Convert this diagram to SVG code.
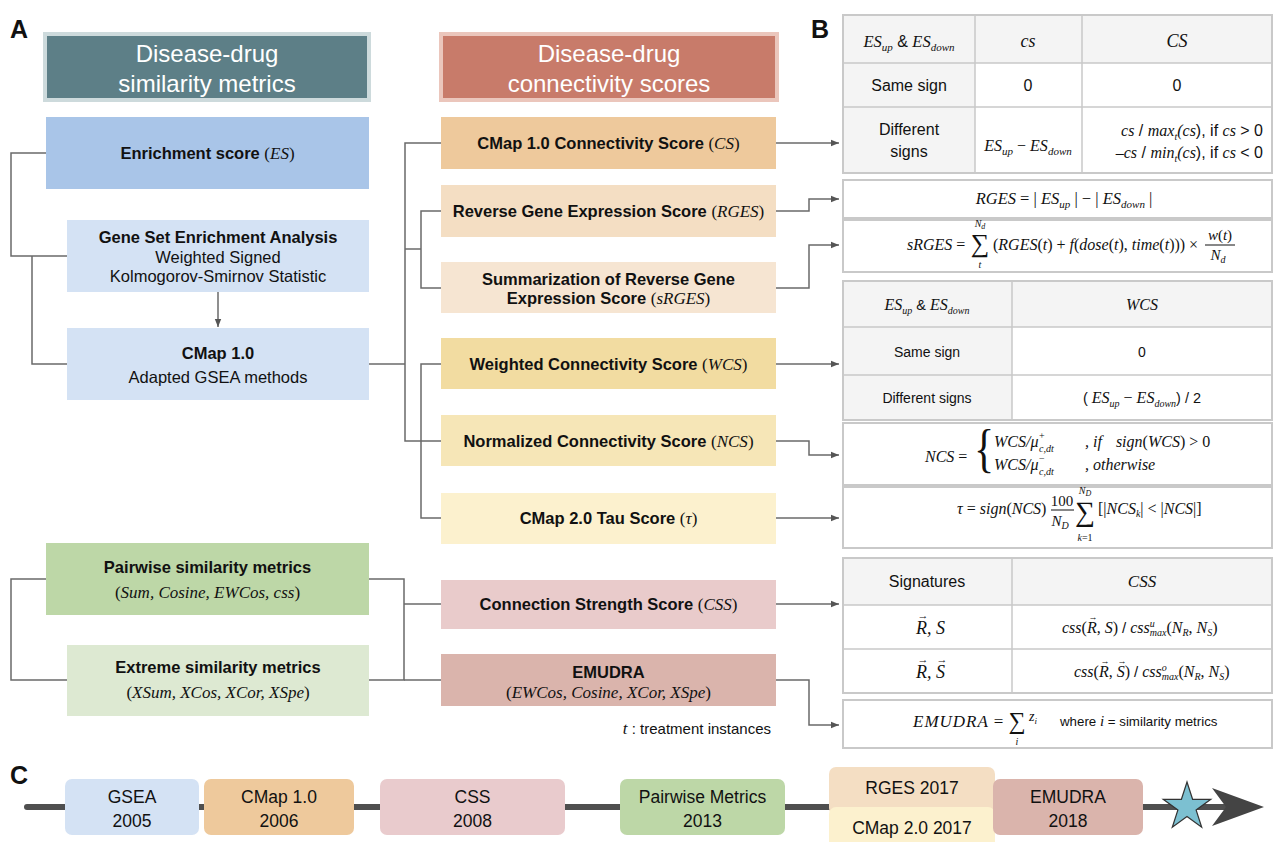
<svg xmlns="http://www.w3.org/2000/svg" width="1277" height="842" viewBox="0 0 1277 842">
<defs>
<marker id="ah" viewBox="0 0 10 10" refX="10" refY="5" markerWidth="8" markerHeight="8" markerUnits="userSpaceOnUse" orient="auto"><path d="M0,1 L10,5 L0,9 z" fill="#555"/></marker>
<style>
.conn{fill:none;stroke:#6a6a6a;stroke-width:1.5}
.sa{font-family:"Liberation Sans",Arial,sans-serif}
.b{font-family:"Liberation Sans",Arial,sans-serif;font-weight:bold;font-size:16.5px;fill:#111}
.r{font-family:"Liberation Sans",Arial,sans-serif;font-size:16.5px;fill:#111}
.mi{font-family:"Liberation Serif","DejaVu Serif",serif;font-style:italic;font-weight:normal}
.mr{font-family:"Liberation Serif","DejaVu Serif",serif;font-style:normal;font-weight:normal}
.hd{font-family:"Liberation Sans",Arial,sans-serif;font-size:24px;fill:#fff}
.lab{font-family:"Liberation Sans",Arial,sans-serif;font-weight:bold;font-size:25px;fill:#111}
.tb{fill:#fff;stroke:#c9c9c9;stroke-width:2}
.tg{fill:#f4f4f4}
.tl{stroke:#c9c9c9;stroke-width:1.5}
.tt{font-family:"Liberation Sans",Arial,sans-serif;fill:#111}
.tm{font-family:"Liberation Serif","DejaVu Serif",serif;fill:#111}
.tl2{font-family:"Liberation Sans",Arial,sans-serif;font-size:17.5px;fill:#111;text-anchor:middle}
</style>
</defs>
<rect width="1277" height="842" fill="#fff"/>

<!-- panel labels -->
<text class="lab" x="10" y="38">A</text>
<text class="lab" x="811" y="38">B</text>
<text class="lab" x="10" y="784">C</text>

<!-- headers -->
<g id="hdr-similarity">
<rect x="45" y="34" width="324" height="66" fill="#5d7f87" stroke="#cddadc" stroke-width="4"/>
<text class="hd" x="207" y="62" text-anchor="middle">Disease-drug</text>
<text class="hd" x="207" y="92" text-anchor="middle">similarity metrics</text>
</g>
<g id="hdr-connectivity">
<rect x="441" y="34" width="336" height="66" fill="#c87b6a" stroke="#ebc6bc" stroke-width="4"/>
<text class="hd" x="609" y="62" text-anchor="middle">Disease-drug</text>
<text class="hd" x="609" y="92" text-anchor="middle">connectivity scores</text>
</g>

<!-- connectors -->
<g id="connectors">
<path class="conn" d="M46,153 H11 V256 H67"/>
<path class="conn" d="M32,256 V364 H67"/>
<path class="conn" d="M369,364 H405"/>
<path class="conn" d="M441,143 H405 V441 H441"/>
<path class="conn" d="M405,249 H421"/>
<path class="conn" d="M441,211 H421 V288 H441"/>
<path class="conn" d="M441,364 H421 V518 H441"/>
<path class="conn" d="M46,579 H11 V680 H67"/>
<path class="conn" d="M369,579 H404 V680 H369"/>
<path class="conn" d="M404,604 H441"/>
<path class="conn" d="M404,680 H441"/>
<path class="conn" d="M218,292 V327" marker-end="url(#ah)"/>
<path class="conn" d="M776,143 H839" marker-end="url(#ah)"/>
<path class="conn" d="M776,211 H809 V199 H839" marker-end="url(#ah)"/>
<path class="conn" d="M776,288 H809 V245 H839" marker-end="url(#ah)"/>
<path class="conn" d="M776,364 H839" marker-end="url(#ah)"/>
<path class="conn" d="M776,441 H809 V455 H839" marker-end="url(#ah)"/>
<path class="conn" d="M776,518 H839" marker-end="url(#ah)"/>
<path class="conn" d="M776,604 H839" marker-end="url(#ah)"/>
<path class="conn" d="M776,680 H809 V725 H839" marker-end="url(#ah)"/>
</g>

<!-- left column -->
<g id="n-es">
<rect x="46" y="117" width="323" height="72" fill="#a9c5e8"/>
<text class="b" x="207.5" y="159" text-anchor="middle">Enrichment score <tspan class="mr" font-size="17">(</tspan><tspan class="mi" font-size="17">ES</tspan><tspan class="mr" font-size="17">)</tspan></text>
</g>
<g id="n-gsea">
<rect x="67" y="220" width="302" height="72" fill="#d4e2f4"/>
<text class="b" x="218" y="243" text-anchor="middle">Gene Set Enrichment Analysis</text>
<text class="r" x="218" y="263" text-anchor="middle">Weighted Signed</text>
<text class="r" x="218" y="282" text-anchor="middle">Kolmogorov-Smirnov Statistic</text>
</g>
<g id="n-cmap1">
<rect x="67" y="328" width="302" height="72" fill="#d4e2f4"/>
<text class="b" x="218" y="359" text-anchor="middle">CMap 1.0</text>
<text class="r" x="218" y="383" text-anchor="middle">Adapted GSEA methods</text>
</g>
<g id="n-pairwise">
<rect x="46" y="543" width="323" height="72" fill="#bdd7a7"/>
<text class="b" x="207.5" y="573" text-anchor="middle">Pairwise similarity metrics</text>
<text class="mi" font-size="17" x="207.5" y="598" text-anchor="middle" fill="#111"><tspan class="mr">(</tspan>Sum, Cosine, EWCos, css<tspan class="mr">)</tspan></text>
</g>
<g id="n-extreme">
<rect x="67" y="645" width="302" height="71" fill="#dde9d2"/>
<text class="b" x="218" y="673" text-anchor="middle">Extreme similarity metrics</text>
<text class="mi" font-size="17" x="218" y="698" text-anchor="middle" fill="#111"><tspan class="mr">(</tspan>XSum, XCos, XCor, XSpe<tspan class="mr">)</tspan></text>
</g>

<!-- middle column -->
<g id="n-cs">
<rect x="441" y="117" width="335" height="52" fill="#eec99c"/>
<text class="b" x="608.5" y="149" text-anchor="middle">CMap 1.0 Connectivity Score <tspan class="mr" font-size="17">(</tspan><tspan class="mi" font-size="17">CS</tspan><tspan class="mr" font-size="17">)</tspan></text>
</g>
<g id="n-rges">
<rect x="441" y="185" width="335" height="52" fill="#f4dec3"/>
<text class="b" x="608.5" y="217" text-anchor="middle">Reverse Gene Expression Score <tspan class="mr" font-size="17">(</tspan><tspan class="mi" font-size="17">RGES</tspan><tspan class="mr" font-size="17">)</tspan></text>
</g>
<g id="n-srges">
<rect x="441" y="262" width="335" height="51" fill="#f6e5d2"/>
<text class="b" x="608.5" y="285" text-anchor="middle">Summarization of Reverse Gene</text>
<text class="b" x="608.5" y="304" text-anchor="middle">Expression Score <tspan class="mr" font-size="17">(</tspan><tspan class="mi" font-size="17">sRGES</tspan><tspan class="mr" font-size="17">)</tspan></text>
</g>
<g id="n-wcs">
<rect x="441" y="338" width="335" height="51" fill="#f2dca1"/>
<text class="b" x="608.5" y="370" text-anchor="middle">Weighted Connectivity Score <tspan class="mr" font-size="17">(</tspan><tspan class="mi" font-size="17">WCS</tspan><tspan class="mr" font-size="17">)</tspan></text>
</g>
<g id="n-ncs">
<rect x="441" y="415" width="335" height="51" fill="#f6e6b7"/>
<text class="b" x="608.5" y="447" text-anchor="middle">Normalized Connectivity Score <tspan class="mr" font-size="17">(</tspan><tspan class="mi" font-size="17">NCS</tspan><tspan class="mr" font-size="17">)</tspan></text>
</g>
<g id="n-tau">
<rect x="441" y="493" width="335" height="51" fill="#fcf1ce"/>
<text class="b" x="608.5" y="524" text-anchor="middle">CMap 2.0 Tau Score <tspan class="mr" font-size="17">(</tspan><tspan class="mi" font-size="17">τ</tspan><tspan class="mr" font-size="17">)</tspan></text>
</g>
<g id="n-css">
<rect x="441" y="580" width="335" height="49" fill="#e9cbcb"/>
<text class="b" x="608.5" y="610" text-anchor="middle">Connection Strength Score <tspan class="mr" font-size="17">(</tspan><tspan class="mi" font-size="17">CSS</tspan><tspan class="mr" font-size="17">)</tspan></text>
</g>
<g id="n-emudra">
<rect x="441" y="654" width="335" height="52" fill="#dab4ac"/>
<text class="b" x="608.5" y="678" text-anchor="middle">EMUDRA</text>
<text class="mi" font-size="17" x="608.5" y="698" text-anchor="middle" fill="#111"><tspan class="mr">(</tspan>EWCos, Cosine, XCor, XSpe<tspan class="mr">)</tspan></text>
</g>
<text class="sa" font-size="15" x="771" y="734" text-anchor="end" fill="#111"><tspan class="mi" font-size="17">t</tspan> : treatment instances</text>

<!-- panel B: CS table -->
<g id="t-cs">
<rect class="tb" x="843" y="15" width="429" height="158"/>
<rect class="tg" x="844" y="16" width="427" height="47"/>
<rect class="tg" x="844" y="63" width="131" height="109"/>
<line class="tl" x1="975" y1="15" x2="975" y2="173"/>
<line class="tl" x1="1082" y1="15" x2="1082" y2="173"/>
<line class="tl" x1="843" y1="63" x2="1272" y2="63"/>
<line class="tl" x1="843" y1="107" x2="1272" y2="107"/>
<text class="tm" font-size="16.5" x="909" y="47" text-anchor="middle"><tspan class="mi">ES</tspan><tspan class="mi" font-size="11" dy="4">up</tspan><tspan class="sa" font-size="16" dy="-4"> &amp; </tspan><tspan class="mi">ES</tspan><tspan class="mi" font-size="11" dy="4">down</tspan></text>
<text class="tm mi" font-size="18" x="1028" y="47" text-anchor="middle">cs</text>
<text class="tm mi" font-size="18" x="1177" y="47" text-anchor="middle">CS</text>
<text class="tt" font-size="16" x="909" y="91" text-anchor="middle">Same sign</text>
<text class="tt" font-size="16" x="1028" y="91" text-anchor="middle">0</text>
<text class="tt" font-size="16" x="1177" y="91" text-anchor="middle">0</text>
<text class="tt" font-size="16" x="909" y="135" text-anchor="middle">Different</text>
<text class="tt" font-size="16" x="909" y="157" text-anchor="middle">signs</text>
<text class="tm" font-size="16" x="1028" y="151" text-anchor="middle"><tspan class="mi">ES</tspan><tspan class="mi" font-size="11" dy="4">up</tspan><tspan dy="-4"> − </tspan><tspan class="mi">ES</tspan><tspan class="mi" font-size="11" dy="4">down</tspan></text>
<text class="tm" font-size="16" x="1263" y="136" text-anchor="end"><tspan class="mi">cs</tspan><tspan class="sa" font-size="16"> / </tspan><tspan class="mi">max</tspan><tspan class="mi" font-size="10" dy="4">t</tspan><tspan class="mi" dy="-4">(cs</tspan><tspan class="sa" font-size="16">), if </tspan><tspan class="mi">cs</tspan><tspan class="sa" font-size="16"> &gt; 0</tspan></text>
<text class="tm" font-size="16" x="1263" y="158" text-anchor="end"><tspan class="mi">–cs</tspan><tspan class="sa" font-size="16"> / </tspan><tspan class="mi">min</tspan><tspan class="mi" font-size="10" dy="4">t</tspan><tspan class="mi" dy="-4">(cs</tspan><tspan class="sa" font-size="16">), if </tspan><tspan class="mi">cs</tspan><tspan class="sa" font-size="16"> &lt; 0</tspan></text>
</g>

<!-- RGES / sRGES -->
<g id="t-rges">
<rect class="tb" x="843" y="180" width="429" height="38"/>
<text class="tm" font-size="16.5" x="1064" y="204" text-anchor="middle"><tspan class="mi">RGES</tspan> = | <tspan class="mi">ES</tspan><tspan class="mi" font-size="11" dy="4">up</tspan><tspan dy="-4"> | − | </tspan><tspan class="mi">ES</tspan><tspan class="mi" font-size="11" dy="4">down</tspan><tspan dy="-4"> |</tspan></text>
</g>
<g id="t-srges">
<rect class="tb" x="843" y="220" width="429" height="52"/>
<text class="tm" font-size="16" x="907" y="250"><tspan class="mi">sRGES</tspan> =</text>
<text class="tm" font-size="26" x="980" y="252" text-anchor="middle">∑</text>
<text class="tm mi" font-size="10" x="980" y="227" text-anchor="middle">N<tspan font-size="8" dy="2">d</tspan></text>
<text class="tm mi" font-size="10" x="980" y="268" text-anchor="middle">t</text>
<text class="tm" font-size="16" x="993" y="250">(<tspan class="mi">RGES</tspan>(<tspan class="mi">t</tspan>) + <tspan class="mi">f</tspan>(<tspan class="mi">dose</tspan>(<tspan class="mi">t</tspan>), <tspan class="mi">time</tspan>(<tspan class="mi">t</tspan>))) ×</text>
<text class="tm" font-size="15" x="1220" y="240" text-anchor="middle"><tspan class="mi">w</tspan>(<tspan class="mi">t</tspan>)</text>
<line x1="1205" y1="245" x2="1235" y2="245" stroke="#111" stroke-width="1"/>
<text class="tm mi" font-size="15" x="1218" y="260" text-anchor="middle">N<tspan font-size="10" dy="3">d</tspan></text>
</g>

<!-- WCS table -->
<g id="t-wcs">
<rect class="tb" x="843" y="281" width="429" height="139"/>
<rect class="tg" x="844" y="282" width="427" height="45"/>
<rect class="tg" x="844" y="327" width="168" height="92"/>
<line class="tl" x1="1012" y1="281" x2="1012" y2="420"/>
<line class="tl" x1="843" y1="327" x2="1272" y2="327"/>
<line class="tl" x1="843" y1="375" x2="1272" y2="375"/>
<text class="tm" font-size="16" x="927" y="310" text-anchor="middle"><tspan class="mi">ES</tspan><tspan class="mi" font-size="10" dy="4">up</tspan><tspan class="sa" font-size="14.5" dy="-4"> &amp; </tspan><tspan class="mi">ES</tspan><tspan class="mi" font-size="10" dy="4">down</tspan></text>
<text class="tm mi" font-size="16" x="1142" y="310" text-anchor="middle">WCS</text>
<text class="tt" font-size="14" x="927" y="357" text-anchor="middle">Same sign</text>
<text class="tt" font-size="14" x="1142" y="357" text-anchor="middle">0</text>
<text class="tt" font-size="14" x="927" y="403" text-anchor="middle">Different signs</text>
<text class="tm" font-size="16" x="1142" y="403" text-anchor="middle"><tspan class="sa" font-size="14.5">( </tspan><tspan class="mi">ES</tspan><tspan class="mi" font-size="10" dy="4">up</tspan><tspan dy="-4"> − </tspan><tspan class="mi">ES</tspan><tspan class="mi" font-size="10" dy="4">down</tspan><tspan class="sa" font-size="14.5" dy="-4">) / 2</tspan></text>
</g>

<!-- NCS -->
<g id="t-ncs">
<rect class="tb" x="843" y="423" width="429" height="62"/>
<text class="tm" font-size="16" x="925" y="462"><tspan class="mi">NCS</tspan> =</text>
<text class="tm" font-size="42" x="974" y="0" transform="translate(0,466) scale(1,1.24)">{</text>
<text class="tm mi" font-size="16" x="994" y="447">WCS/μ</text>
<text class="tm" font-size="10" x="1039" y="439">+</text>
<text class="tm mi" font-size="10" x="1039" y="452">c,dt</text>
<text class="tm mi" font-size="16" x="1085" y="447">, if<tspan dx="14">sign</tspan><tspan class="mr">(</tspan>WCS<tspan class="mr">) &gt; 0</tspan></text>
<text class="tm mi" font-size="16" x="994" y="470">WCS/μ</text>
<text class="tm" font-size="10" x="1039" y="462">−</text>
<text class="tm mi" font-size="10" x="1039" y="475">c,dt</text>
<text class="tm mi" font-size="16" x="1085" y="470">, otherwise</text>
</g>

<!-- tau -->
<g id="t-tau">
<rect class="tb" x="843" y="487" width="429" height="61"/>
<text class="tm" font-size="16" x="957" y="514"><tspan class="mi">τ</tspan> = <tspan class="mi">sign</tspan>(<tspan class="mi">NCS</tspan>)</text>
<text class="tm" font-size="15" x="1062" y="506" text-anchor="middle">100</text>
<line x1="1051" y1="510" x2="1074" y2="510" stroke="#111" stroke-width="1"/>
<text class="tm mi" font-size="15" x="1060" y="526" text-anchor="middle">N<tspan font-size="10" dy="3">D</tspan></text>
<text class="tm" font-size="28" x="1085" y="521" text-anchor="middle">∑</text>
<text class="tm mi" font-size="10" x="1085" y="494" text-anchor="middle">N<tspan font-size="8" dy="2">D</tspan></text>
<text class="tm" font-size="10" x="1085" y="541" text-anchor="middle"><tspan class="mi">k</tspan>=1</text>
<text class="tm" font-size="16" x="1098" y="514">[|<tspan class="mi">NCS</tspan><tspan class="mi" font-size="10" dy="3">k</tspan><tspan dy="-3">| &lt; |</tspan><tspan class="mi">NCS</tspan>|]</text>
</g>

<!-- CSS table -->
<g id="t-css">
<rect class="tb" x="843" y="558" width="429" height="135"/>
<rect class="tg" x="844" y="559" width="427" height="46"/>
<line class="tl" x1="1012" y1="558" x2="1012" y2="693"/>
<line class="tl" x1="843" y1="605" x2="1272" y2="605"/>
<line class="tl" x1="843" y1="649" x2="1272" y2="649"/>
<text class="tt" font-size="16" x="927" y="587" text-anchor="middle">Signatures</text>
<text class="tm mi" font-size="17" x="1142" y="587" text-anchor="middle">CSS</text>
<text class="tm mi" font-size="18" x="916" y="634">R, S</text>
<text class="tm" font-size="11" x="923" y="619" text-anchor="middle">→</text>
<text class="tm mi" font-size="18" x="916" y="678">R, S</text>
<text class="tm" font-size="11" x="923" y="663" text-anchor="middle">→</text>
<text class="tm" font-size="11" x="942" y="663" text-anchor="middle">→</text>
<text class="tm" font-size="16" x="1062" y="633"><tspan class="mi">css</tspan>(<tspan class="mi">R</tspan>, <tspan class="mi">S</tspan>)  <tspan class="sa" font-size="15">/</tspan>  <tspan class="mi">css</tspan><tspan class="mi" font-size="10" dy="-6">u</tspan><tspan class="mi" font-size="10" dx="-5" dy="9">max</tspan><tspan dy="-3">(</tspan><tspan class="mi">N</tspan><tspan class="mi" font-size="10" dy="3">R</tspan><tspan dy="-3">, </tspan><tspan class="mi">N</tspan><tspan class="mi" font-size="10" dy="3">S</tspan><tspan dy="-3">)</tspan></text>
<text class="tm" font-size="9" x="1093" y="620" text-anchor="middle">→</text>
<text class="tm" font-size="16" x="1074" y="677"><tspan class="mi">css</tspan>(<tspan class="mi">R</tspan>, <tspan class="mi">S</tspan>) <tspan class="sa" font-size="15">/</tspan>  <tspan class="mi">css</tspan><tspan class="mi" font-size="10" dy="-6">o</tspan><tspan class="mi" font-size="10" dx="-5" dy="9">max</tspan><tspan dy="-3">(</tspan><tspan class="mi">N</tspan><tspan class="mi" font-size="10" dy="3">R</tspan><tspan dy="-3">, </tspan><tspan class="mi">N</tspan><tspan class="mi" font-size="10" dy="3">S</tspan><tspan dy="-3">)</tspan></text>
<text class="tm" font-size="9" x="1105" y="664" text-anchor="middle">→</text>
<text class="tm" font-size="9" x="1122" y="664" text-anchor="middle">→</text>
</g>

<!-- EMUDRA formula -->
<g id="t-emudra">
<rect class="tb" x="843" y="700" width="429" height="48"/>
<text class="tm mi" font-size="17" x="913" y="727" letter-spacing="1">EMUDRA <tspan class="mr" letter-spacing="0">=</tspan></text>
<text class="tm" font-size="24" x="1017" y="729" text-anchor="middle">∑</text>
<text class="tm mi" font-size="10" x="1017" y="745" text-anchor="middle">i</text>
<text class="tm mi" font-size="14" x="1029" y="721">z<tspan font-size="9" dy="3">i</tspan></text>
<text class="tt" font-size="13.3" x="1060" y="726">where <tspan class="mi" font-size="15">i</tspan> = similarity metrics</text>
</g>

<!-- panel C timeline -->
<g id="timeline">
<line x1="27" y1="807" x2="1232" y2="807" stroke="#4f4f4f" stroke-width="6" stroke-linecap="round"/>
<polygon points="1212,788 1264,807 1212,826 1226,807" fill="#444"/>
</g>
<g id="c-gsea">
<rect x="65" y="779" width="134" height="56" rx="7" fill="#d4e2f4"/>
<text class="tl2" x="132" y="803">GSEA</text>
<text class="tl2" x="132" y="827">2005</text>
</g>
<g id="c-cmap1">
<rect x="204" y="779" width="150" height="56" rx="7" fill="#eec99c"/>
<text class="tl2" x="279" y="803">CMap 1.0</text>
<text class="tl2" x="279" y="827">2006</text>
</g>
<g id="c-css">
<rect x="380" y="779" width="185" height="56" rx="7" fill="#e9cbcd"/>
<text class="tl2" x="472.5" y="803">CSS</text>
<text class="tl2" x="472.5" y="827">2008</text>
</g>
<g id="c-pairwise">
<rect x="620" y="779" width="165" height="56" rx="7" fill="#bdd7a7"/>
<text class="tl2" x="702.5" y="803">Pairwise Metrics</text>
<text class="tl2" x="702.5" y="827">2013</text>
</g>
<g id="c-rges">
<rect x="829" y="767" width="166" height="48" rx="7" fill="#f4dec3"/>
<text class="tl2" x="912" y="794">RGES 2017</text>
</g>
<g id="c-cmap2">
<rect x="829" y="807" width="166" height="45" rx="7" fill="#fcf1ce"/>
<text class="tl2" x="912" y="834">CMap 2.0 2017</text>
</g>
<g id="c-emudra">
<rect x="993" y="779" width="150" height="56" rx="7" fill="#dab4ac"/>
<text class="tl2" x="1068" y="803">EMUDRA</text>
<text class="tl2" x="1068" y="827">2018</text>
</g>
<g id="c-star">
<polygon points="1187,782 1192.6,799.3 1210.8,799.3 1196.1,810 1201.7,827.2 1187,816.6 1172.3,827.2 1177.9,810 1163.2,799.3 1181.4,799.3" fill="#7cc0d1" stroke="#333" stroke-width="1.2"/>
</g>
</svg>
